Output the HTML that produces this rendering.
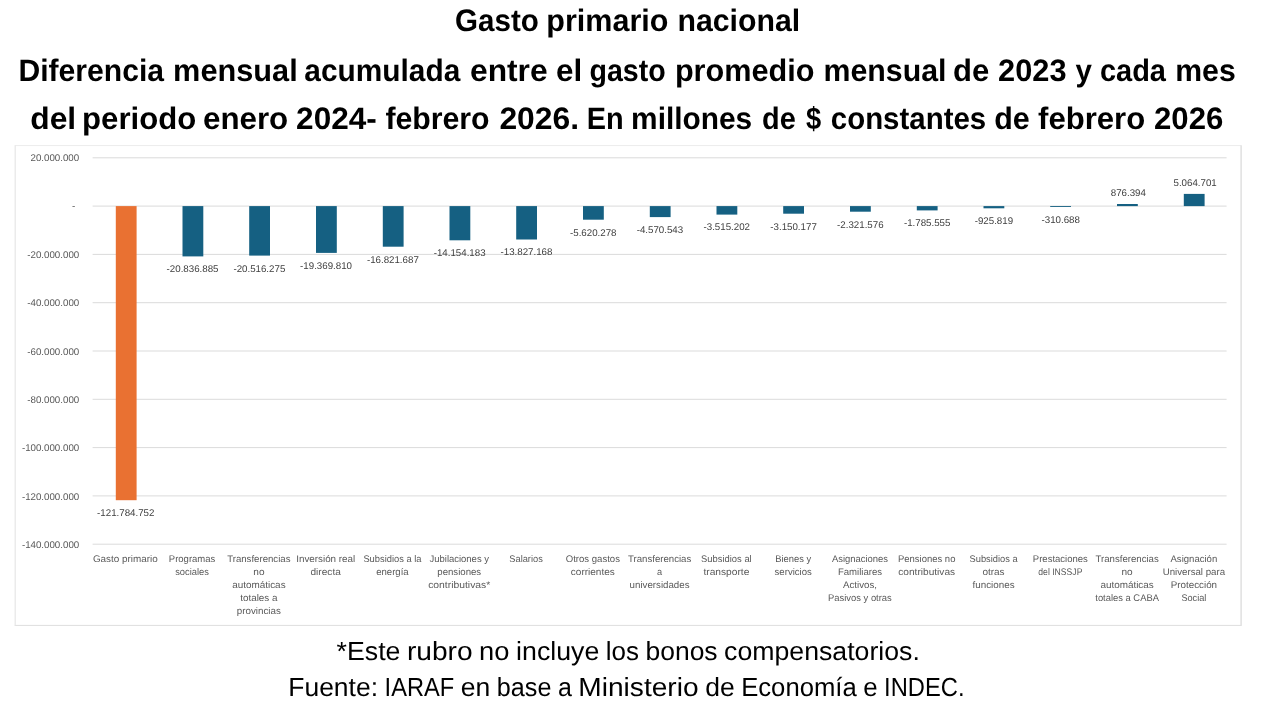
<!DOCTYPE html>
<html lang="es"><head><meta charset="utf-8"><title>Gasto primario nacional</title>
<style>
html,body{margin:0;padding:0;background:#fff;}
body{width:1276px;height:718px;overflow:hidden;}
svg{display:block;}
text{font-family:"Liberation Sans",Arial,sans-serif;text-rendering:geometricPrecision;}
.t{font-weight:bold;font-size:31px;fill:#000;}
.f{font-size:26.2px;fill:#000;}
.y{font-size:9.75px;fill:#595959;}
.d{font-size:9.75px;fill:#404040;}
.c{font-size:9.6px;fill:#595959;}
</style></head><body>
<svg width="1276" height="718" viewBox="0 0 1276 718">
<rect x="0" y="0" width="1276" height="718" fill="#fff"/>
<text class="t" y="31"><tspan x="455.0" textLength="83.8" lengthAdjust="spacingAndGlyphs">Gasto</tspan> <tspan x="546.3" textLength="122.1" lengthAdjust="spacingAndGlyphs">primario</tspan> <tspan x="677.5" textLength="122.7" lengthAdjust="spacingAndGlyphs">nacional</tspan></text>
<text class="t" y="81"><tspan x="18.5" textLength="145.5" lengthAdjust="spacingAndGlyphs">Diferencia</tspan> <tspan x="173.1" textLength="124.6" lengthAdjust="spacingAndGlyphs">mensual</tspan> <tspan x="304.3" textLength="156.0" lengthAdjust="spacingAndGlyphs">acumulada</tspan> <tspan x="470.0" textLength="77.6" lengthAdjust="spacingAndGlyphs">entre</tspan> <tspan x="556.0" textLength="26.1" lengthAdjust="spacingAndGlyphs">el</tspan> <tspan x="589.5" textLength="76.2" lengthAdjust="spacingAndGlyphs">gasto</tspan> <tspan x="674.9" textLength="139.6" lengthAdjust="spacingAndGlyphs">promedio</tspan> <tspan x="823.5" textLength="123.0" lengthAdjust="spacingAndGlyphs">mensual</tspan> <tspan x="953.0" textLength="36.2" lengthAdjust="spacingAndGlyphs">de</tspan> <tspan x="998.1" textLength="68.4" lengthAdjust="spacingAndGlyphs">2023</tspan> <tspan x="1075.6" textLength="16.4" lengthAdjust="spacingAndGlyphs">y</tspan> <tspan x="1099.9" textLength="66.1" lengthAdjust="spacingAndGlyphs">cada</tspan> <tspan x="1175.2" textLength="60.5" lengthAdjust="spacingAndGlyphs">mes</tspan></text>
<text class="t" y="129"><tspan x="30.3" textLength="45.9" lengthAdjust="spacingAndGlyphs">del</tspan> <tspan x="82.1" textLength="114.1" lengthAdjust="spacingAndGlyphs">periodo</tspan> <tspan x="203.0" textLength="85.2" lengthAdjust="spacingAndGlyphs">enero</tspan> <tspan x="296.1" textLength="80.7" lengthAdjust="spacingAndGlyphs">2024-</tspan> <tspan x="385.4" textLength="104.2" lengthAdjust="spacingAndGlyphs">febrero</tspan> <tspan x="499.4" textLength="79.7" lengthAdjust="spacingAndGlyphs">2026.</tspan> <tspan x="586.8" textLength="36.9" lengthAdjust="spacingAndGlyphs">En</tspan> <tspan x="631.1" textLength="121.1" lengthAdjust="spacingAndGlyphs">millones</tspan> <tspan x="762.0" textLength="33.7" lengthAdjust="spacingAndGlyphs">de</tspan> <tspan x="806.1" textLength="15.2" lengthAdjust="spacingAndGlyphs">$</tspan> <tspan x="830.8" textLength="155.4" lengthAdjust="spacingAndGlyphs">constantes</tspan> <tspan x="994.2" textLength="35.5" lengthAdjust="spacingAndGlyphs">de</tspan> <tspan x="1038.1" textLength="107.1" lengthAdjust="spacingAndGlyphs">febrero</tspan> <tspan x="1154.0" textLength="69.3" lengthAdjust="spacingAndGlyphs">2026</tspan></text>
<rect x="15.2" y="145.6" width="1225.8" height="479.8" fill="#fff"/>
<line x1="14.7" x2="1241.7" y1="145.6" y2="145.6" stroke="#ececec" stroke-width="1"/>
<line x1="14.7" x2="1241.7" y1="625.4" y2="625.4" stroke="#dedede" stroke-width="1"/>
<line x1="15.2" x2="15.2" y1="145.6" y2="625.4" stroke="#e6e6e6" stroke-width="1.2"/>
<line x1="1241.1" x2="1241.1" y1="145.6" y2="625.4" stroke="#dedede" stroke-width="1.4"/>
<line x1="92.6" x2="1226.6" y1="157.8" y2="157.8" stroke="#dbdbdb" stroke-width="1"/>
<line x1="92.6" x2="1226.6" y1="206.1" y2="206.1" stroke="#dbdbdb" stroke-width="1"/>
<line x1="92.6" x2="1226.6" y1="254.4" y2="254.4" stroke="#dbdbdb" stroke-width="1"/>
<line x1="92.6" x2="1226.6" y1="302.7" y2="302.7" stroke="#dbdbdb" stroke-width="1"/>
<line x1="92.6" x2="1226.6" y1="351.0" y2="351.0" stroke="#dbdbdb" stroke-width="1"/>
<line x1="92.6" x2="1226.6" y1="399.3" y2="399.3" stroke="#dbdbdb" stroke-width="1"/>
<line x1="92.6" x2="1226.6" y1="447.6" y2="447.6" stroke="#dbdbdb" stroke-width="1"/>
<line x1="92.6" x2="1226.6" y1="495.9" y2="495.9" stroke="#dbdbdb" stroke-width="1"/>
<line x1="92.6" x2="1226.6" y1="544.2" y2="544.2" stroke="#dbdbdb" stroke-width="1"/>
<text class="y" x="30.5" y="161.0" textLength="48.7" lengthAdjust="spacingAndGlyphs">20.000.000</text>
<text class="y" x="71.9" y="209.0" textLength="3.3" lengthAdjust="spacingAndGlyphs">-</text>
<text class="y" x="27.3" y="258.0" textLength="51.9" lengthAdjust="spacingAndGlyphs">-20.000.000</text>
<text class="y" x="27.3" y="306.0" textLength="51.9" lengthAdjust="spacingAndGlyphs">-40.000.000</text>
<text class="y" x="27.3" y="355.0" textLength="51.9" lengthAdjust="spacingAndGlyphs">-60.000.000</text>
<text class="y" x="27.3" y="403.0" textLength="51.9" lengthAdjust="spacingAndGlyphs">-80.000.000</text>
<text class="y" x="21.9" y="451.0" textLength="57.3" lengthAdjust="spacingAndGlyphs">-100.000.000</text>
<text class="y" x="21.9" y="500.0" textLength="57.3" lengthAdjust="spacingAndGlyphs">-120.000.000</text>
<text class="y" x="21.9" y="548.0" textLength="57.3" lengthAdjust="spacingAndGlyphs">-140.000.000</text>
<rect x="115.8" y="206.1" width="20.8" height="294.1" fill="#e97132"/>
<text class="d" x="97.1" y="516.0" textLength="57.3" lengthAdjust="spacingAndGlyphs">-121.784.752</text>
<rect x="182.5" y="206.1" width="20.8" height="50.3" fill="#156082"/>
<text class="d" x="166.6" y="272.0" textLength="51.9" lengthAdjust="spacingAndGlyphs">-20.836.885</text>
<rect x="249.2" y="206.1" width="20.8" height="49.5" fill="#156082"/>
<text class="d" x="233.4" y="272.0" textLength="51.9" lengthAdjust="spacingAndGlyphs">-20.516.275</text>
<rect x="316.0" y="206.1" width="20.8" height="46.8" fill="#156082"/>
<text class="d" x="300.1" y="269.0" textLength="51.9" lengthAdjust="spacingAndGlyphs">-19.369.810</text>
<rect x="382.8" y="206.1" width="20.8" height="40.6" fill="#156082"/>
<text class="d" x="366.9" y="263.0" textLength="51.9" lengthAdjust="spacingAndGlyphs">-16.821.687</text>
<rect x="449.5" y="206.1" width="20.8" height="34.2" fill="#156082"/>
<text class="d" x="433.7" y="256.0" textLength="51.9" lengthAdjust="spacingAndGlyphs">-14.154.183</text>
<rect x="516.2" y="206.1" width="20.8" height="33.4" fill="#156082"/>
<text class="d" x="500.5" y="255.0" textLength="51.9" lengthAdjust="spacingAndGlyphs">-13.827.168</text>
<rect x="583.0" y="206.1" width="20.8" height="13.6" fill="#156082"/>
<text class="d" x="570.0" y="236.0" textLength="46.5" lengthAdjust="spacingAndGlyphs">-5.620.278</text>
<rect x="649.8" y="206.1" width="20.8" height="11.0" fill="#156082"/>
<text class="d" x="636.7" y="233.0" textLength="46.5" lengthAdjust="spacingAndGlyphs">-4.570.543</text>
<rect x="716.5" y="206.1" width="20.8" height="8.5" fill="#156082"/>
<text class="d" x="703.5" y="230.0" textLength="46.5" lengthAdjust="spacingAndGlyphs">-3.515.202</text>
<rect x="783.2" y="206.1" width="20.8" height="7.6" fill="#156082"/>
<text class="d" x="770.3" y="230.0" textLength="46.5" lengthAdjust="spacingAndGlyphs">-3.150.177</text>
<rect x="850.0" y="206.1" width="20.8" height="5.6" fill="#156082"/>
<text class="d" x="837.1" y="228.0" textLength="46.5" lengthAdjust="spacingAndGlyphs">-2.321.576</text>
<rect x="916.8" y="206.1" width="20.8" height="4.3" fill="#156082"/>
<text class="d" x="903.9" y="226.0" textLength="46.5" lengthAdjust="spacingAndGlyphs">-1.785.555</text>
<rect x="983.5" y="206.1" width="20.8" height="2.2" fill="#156082"/>
<text class="d" x="974.7" y="224.0" textLength="38.4" lengthAdjust="spacingAndGlyphs">-925.819</text>
<rect x="1050.2" y="206.1" width="20.8" height="0.9" fill="#156082"/>
<text class="d" x="1041.5" y="223.0" textLength="38.4" lengthAdjust="spacingAndGlyphs">-310.688</text>
<rect x="1117.0" y="204.0" width="20.8" height="2.1" fill="#156082"/>
<text class="d" x="1110.8" y="196.0" textLength="35.1" lengthAdjust="spacingAndGlyphs">876.394</text>
<rect x="1183.8" y="193.9" width="20.8" height="12.2" fill="#156082"/>
<text class="d" x="1173.5" y="186.0" textLength="43.2" lengthAdjust="spacingAndGlyphs">5.064.701</text>
<text class="c" x="92.9" y="562.0" textLength="64.8" lengthAdjust="spacingAndGlyphs">Gasto primario</text>
<text class="c" x="168.8" y="562.0" textLength="46.5" lengthAdjust="spacingAndGlyphs">Programas</text>
<text class="c" x="175.2" y="575.0" textLength="33.8" lengthAdjust="spacingAndGlyphs">sociales</text>
<text class="c" x="227.2" y="562.0" textLength="63.3" lengthAdjust="spacingAndGlyphs">Transferencias</text>
<text class="c" x="253.3" y="575.0" textLength="11.2" lengthAdjust="spacingAndGlyphs">no</text>
<text class="c" x="232.2" y="588.0" textLength="53.4" lengthAdjust="spacingAndGlyphs">automáticas</text>
<text class="c" x="240.2" y="601.0" textLength="37.3" lengthAdjust="spacingAndGlyphs">totales a</text>
<text class="c" x="236.8" y="614.0" textLength="44.1" lengthAdjust="spacingAndGlyphs">provincias</text>
<text class="c" x="296.2" y="562.0" textLength="59.0" lengthAdjust="spacingAndGlyphs">Inversión real</text>
<text class="c" x="310.5" y="575.0" textLength="30.3" lengthAdjust="spacingAndGlyphs">directa</text>
<text class="c" x="363.4" y="562.0" textLength="58.1" lengthAdjust="spacingAndGlyphs">Subsidios a la</text>
<text class="c" x="376.2" y="575.0" textLength="32.5" lengthAdjust="spacingAndGlyphs">energía</text>
<text class="c" x="429.5" y="562.0" textLength="59.5" lengthAdjust="spacingAndGlyphs">Jubilaciones y</text>
<text class="c" x="437.3" y="575.0" textLength="43.9" lengthAdjust="spacingAndGlyphs">pensiones</text>
<text class="c" x="428.2" y="588.0" textLength="62.1" lengthAdjust="spacingAndGlyphs">contributivas*</text>
<text class="c" x="509.3" y="562.0" textLength="33.5" lengthAdjust="spacingAndGlyphs">Salarios</text>
<text class="c" x="565.7" y="562.0" textLength="54.3" lengthAdjust="spacingAndGlyphs">Otros gastos</text>
<text class="c" x="570.8" y="575.0" textLength="44.0" lengthAdjust="spacingAndGlyphs">corrientes</text>
<text class="c" x="628.0" y="562.0" textLength="63.3" lengthAdjust="spacingAndGlyphs">Transferencias</text>
<text class="c" x="657.0" y="575.0" textLength="5.1" lengthAdjust="spacingAndGlyphs">a</text>
<text class="c" x="629.6" y="588.0" textLength="59.9" lengthAdjust="spacingAndGlyphs">universidades</text>
<text class="c" x="701.1" y="562.0" textLength="50.6" lengthAdjust="spacingAndGlyphs">Subsidios al</text>
<text class="c" x="703.4" y="575.0" textLength="46.0" lengthAdjust="spacingAndGlyphs">transporte</text>
<text class="c" x="775.2" y="562.0" textLength="35.9" lengthAdjust="spacingAndGlyphs">Bienes y</text>
<text class="c" x="774.6" y="575.0" textLength="37.2" lengthAdjust="spacingAndGlyphs">servicios</text>
<text class="c" x="831.9" y="562.0" textLength="56.2" lengthAdjust="spacingAndGlyphs">Asignaciones</text>
<text class="c" x="837.9" y="575.0" textLength="44.2" lengthAdjust="spacingAndGlyphs">Familiares</text>
<text class="c" x="843.0" y="588.0" textLength="34.0" lengthAdjust="spacingAndGlyphs">Activos,</text>
<text class="c" x="828.1" y="601.0" textLength="63.7" lengthAdjust="spacingAndGlyphs">Pasivos y otras</text>
<text class="c" x="898.0" y="562.0" textLength="57.4" lengthAdjust="spacingAndGlyphs">Pensiones no</text>
<text class="c" x="898.3" y="575.0" textLength="56.8" lengthAdjust="spacingAndGlyphs">contributivas</text>
<text class="c" x="969.5" y="562.0" textLength="48.1" lengthAdjust="spacingAndGlyphs">Subsidios a</text>
<text class="c" x="982.4" y="575.0" textLength="22.2" lengthAdjust="spacingAndGlyphs">otras</text>
<text class="c" x="972.5" y="588.0" textLength="42.1" lengthAdjust="spacingAndGlyphs">funciones</text>
<text class="c" x="1032.8" y="562.0" textLength="55.1" lengthAdjust="spacingAndGlyphs">Prestaciones</text>
<text class="c" x="1038.3" y="575.0" textLength="44.1" lengthAdjust="spacingAndGlyphs">del INSSJP</text>
<text class="c" x="1095.5" y="562.0" textLength="63.3" lengthAdjust="spacingAndGlyphs">Transferencias</text>
<text class="c" x="1121.5" y="575.0" textLength="11.2" lengthAdjust="spacingAndGlyphs">no</text>
<text class="c" x="1100.4" y="588.0" textLength="53.4" lengthAdjust="spacingAndGlyphs">automáticas</text>
<text class="c" x="1095.3" y="601.0" textLength="63.6" lengthAdjust="spacingAndGlyphs">totales a CABA</text>
<text class="c" x="1170.5" y="562.0" textLength="46.7" lengthAdjust="spacingAndGlyphs">Asignación</text>
<text class="c" x="1162.7" y="575.0" textLength="62.4" lengthAdjust="spacingAndGlyphs">Universal para</text>
<text class="c" x="1170.7" y="588.0" textLength="46.4" lengthAdjust="spacingAndGlyphs">Protección</text>
<text class="c" x="1181.4" y="601.0" textLength="25.0" lengthAdjust="spacingAndGlyphs">Social</text>
<text class="f" y="660"><tspan x="336.6" textLength="63.8" lengthAdjust="spacingAndGlyphs">*Este</tspan> <tspan x="406.9" textLength="65.7" lengthAdjust="spacingAndGlyphs">rubro</tspan> <tspan x="479.1" textLength="30.4" lengthAdjust="spacingAndGlyphs">no</tspan> <tspan x="516.1" textLength="83.2" lengthAdjust="spacingAndGlyphs">incluye</tspan> <tspan x="605.8" textLength="33.2" lengthAdjust="spacingAndGlyphs">los</tspan> <tspan x="645.5" textLength="72.1" lengthAdjust="spacingAndGlyphs">bonos</tspan> <tspan x="724.1" textLength="195.7" lengthAdjust="spacingAndGlyphs">compensatorios.</tspan></text>
<text class="f" y="696"><tspan x="288.3" textLength="89.7" lengthAdjust="spacingAndGlyphs">Fuente:</tspan> <tspan x="384.6" textLength="69.6" lengthAdjust="spacingAndGlyphs">IARAF</tspan> <tspan x="460.7" textLength="29.5" lengthAdjust="spacingAndGlyphs">en</tspan> <tspan x="496.8" textLength="54.6" lengthAdjust="spacingAndGlyphs">base</tspan> <tspan x="557.9" textLength="13.9" lengthAdjust="spacingAndGlyphs">a</tspan> <tspan x="578.3" textLength="120.3" lengthAdjust="spacingAndGlyphs">Ministerio</tspan> <tspan x="705.2" textLength="29.5" lengthAdjust="spacingAndGlyphs">de</tspan> <tspan x="741.2" textLength="115.5" lengthAdjust="spacingAndGlyphs">Economía</tspan> <tspan x="863.2" textLength="14.4" lengthAdjust="spacingAndGlyphs">e</tspan> <tspan x="884.1" textLength="80.4" lengthAdjust="spacingAndGlyphs">INDEC.</tspan></text>
</svg>
</body></html>
